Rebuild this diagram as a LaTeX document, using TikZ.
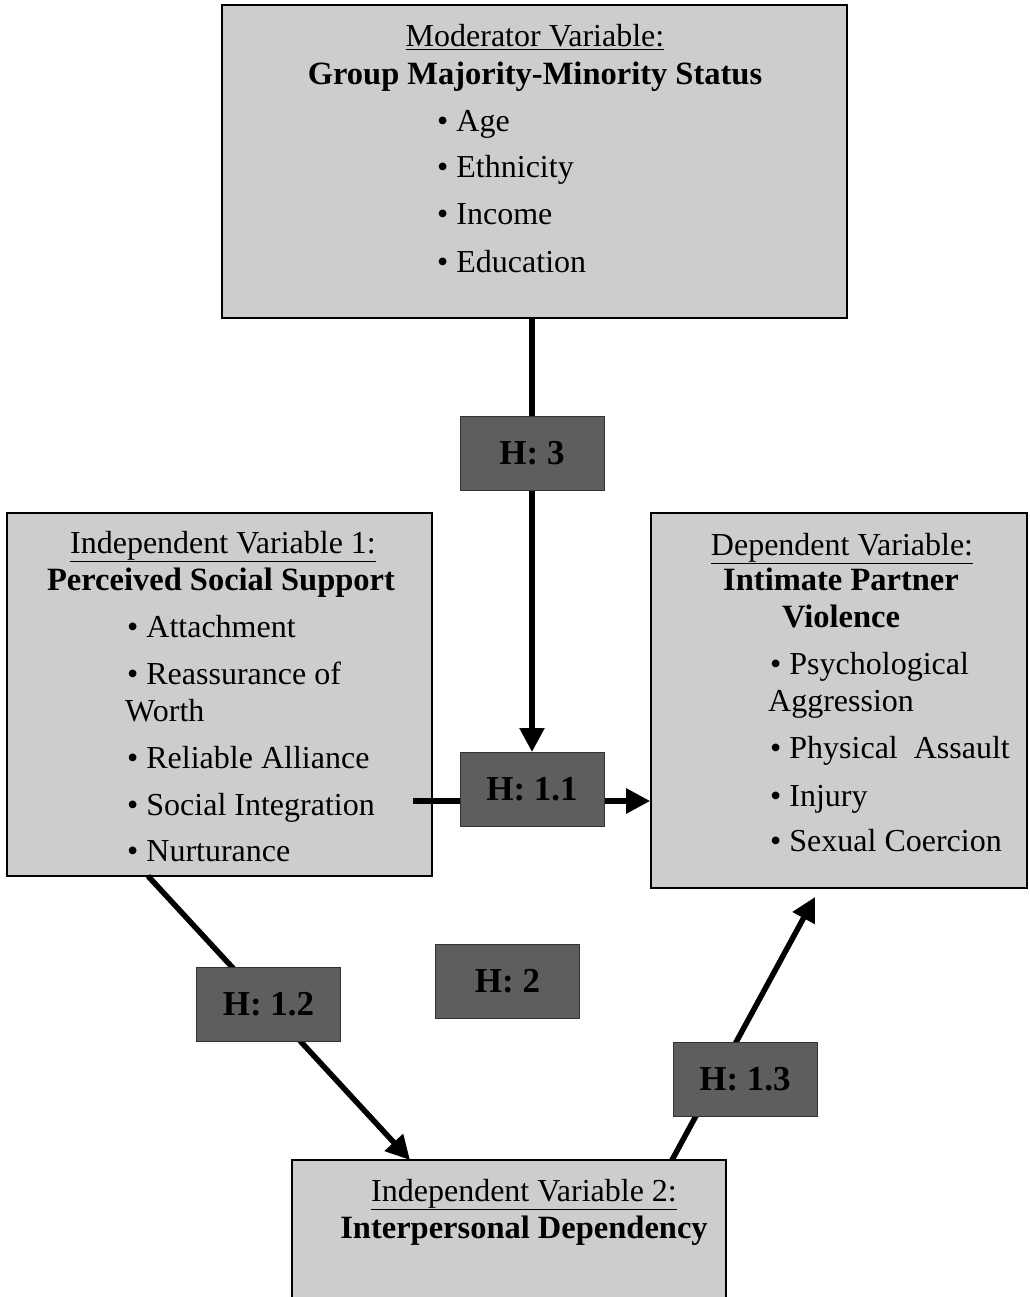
\documentclass[tikz,border=0pt]{standalone}
\usepackage{fontspec}
\setmainfont{Liberation Serif}
\usetikzlibrary{arrows.meta}
\definecolor{boxgray}{HTML}{CDCDCD}
\definecolor{hgray}{HTML}{5E5E5E}
\tikzset{
  varbox/.style={draw=black, line width=1.6pt, fill=boxgray, inner sep=0pt},
  hbox/.style={draw=black!80, line width=1pt, fill=hgray, inner sep=0pt,
    minimum width=144pt, minimum height=74pt,
    font=\fontsize{35}{38}\selectfont\bfseries, text=black},
  txt/.style={inner sep=0pt, font=\fontsize{32}{36}\selectfont},
  btxt/.style={inner sep=0pt, font=\fontsize{32.5}{36}\selectfont\bfseries},
  conn/.style={line width=5.5pt, draw=black},
  tip/.style={-{Triangle[length=24pt,width=24pt]}}
}
\begin{document}
\begin{tikzpicture}[x=1pt,y=-1pt]
\useasboundingbox (0,0) rectangle (1029,1297);
% main boxes
\node[varbox, minimum width=625pt, minimum height=313pt] (mod) at (534.5,161.5) {};
\node[varbox, minimum width=425pt, minimum height=363pt] (iv1) at (219.5,694.5) {};
\node[varbox, minimum width=376pt, minimum height=375pt] (dv) at (839,700.5) {};
\node[varbox, minimum width=434pt, minimum height=160pt] (iv2) at (509,1240) {};
% H box centres
\coordinate (h3c) at (532,453);
\coordinate (h11c) at (532,789.5);
% connector end points
\coordinate (s11) at (413,801);
\coordinate (a12) at (148,876);
\coordinate (e12) at (410,1160);
\coordinate (a13) at (672,1160);
\coordinate (e13) at (815,897);
% connectors
\draw[conn] (mod.south -| h3c) -- (h3c);
\draw[conn, tip] (h3c) -- (h11c |- 0,752);
\draw[conn] (s11) -- (s11 -| h11c);
\draw[conn, tip] (s11 -| h11c) -- (dv.west |- s11);
\draw[conn, tip] (a12) -- (e12);
\draw[conn, tip] (a13) -- (e13);
% H boxes
\node[hbox] (h3) at (h3c) {H: 3};
\node[hbox] (h11) at (h11c) {H: 1.1};
\node[hbox] (h12) at (268.5,1004.5) {H: 1.2};
\node[hbox] (h2) at (507.5,981) {H: 2};
\node[hbox] (h13) at (745,1079) {H: 1.3};
% texts: moderator
\node[txt, anchor=base] (t1) at (535,47) {\underline{Moderator Variable:}};
\node[btxt, anchor=base] (t2) at (535,85) {Group Majority-Minority Status};
\node[txt, anchor=base west] (t3) at (437,132) {\textbullet\ Age};
\node[txt, anchor=base west] (t4) at (437,178) {\textbullet\ Ethnicity};
\node[txt, anchor=base west] (t5) at (437,225) {\textbullet\ Income};
\node[txt, anchor=base west] (t6) at (437,272) {\textbullet\ Education};
% IV1
\node[txt, anchor=base] (u1) at (223,553) {\underline{Independent Variable 1:}};
\node[btxt, anchor=base] (u2) at (221,590) {Perceived Social Support};
\node[txt, anchor=base west] (u3) at (127,637) {\textbullet\ Attachment};
\node[txt, anchor=base west] (u4) at (127,684) {\textbullet\ Reassurance of};
\node[txt, anchor=base west] (u5) at (125,721) {Worth};
\node[txt, anchor=base west] (u6) at (127,768) {\textbullet\ Reliable Alliance};
\node[txt, anchor=base west] (u7) at (127,815) {\textbullet\ Social Integration};
\node[txt, anchor=base west] (u8) at (127,861) {\textbullet\ Nurturance};
% DV
\node[txt, anchor=base] (v1) at (842,555) {\underline{Dependent Variable:}};
\node[btxt, anchor=base] (v2) at (841,590) {Intimate Partner};
\node[btxt, anchor=base] (v3) at (841,627) {Violence};
\node[txt, anchor=base west] (v4) at (770,674) {\textbullet\ Psychological};
\node[txt, anchor=base west] (v5) at (768,711) {Aggression};
\node[txt, anchor=base west] (v6) at (770,758) {\textbullet\ Physical\ \ Assault};
\node[txt, anchor=base west] (v7) at (770,806) {\textbullet\ Injury};
\node[txt, anchor=base west] (v8) at (770,851) {\textbullet\ Sexual Coercion};
% IV2
\node[txt, anchor=base] (w1) at (524,1201) {\underline{Independent Variable 2:}};
\node[btxt, anchor=base] (w2) at (524,1238) {Interpersonal Dependency};
\end{tikzpicture}
\end{document}
